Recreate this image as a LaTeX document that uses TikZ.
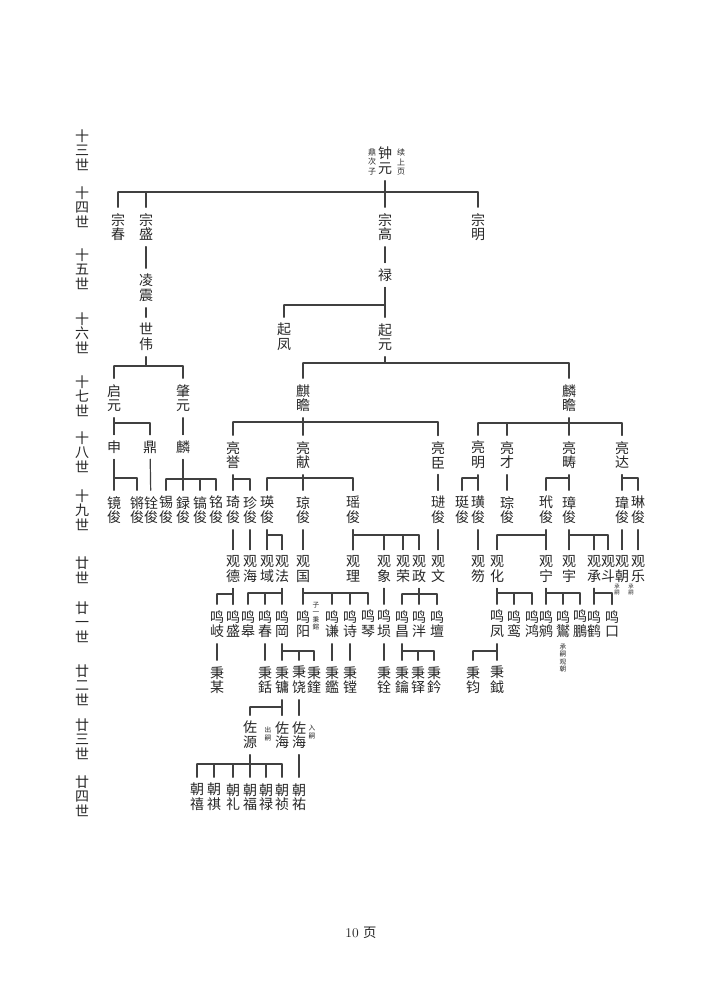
\documentclass[tikz,border=0pt]{standalone}
\usepackage{fontspec}
\newfontfamily\cjk{Noto Sans CJK SC}
\newcommand{\famfork}[5]{%
  \coordinate (bar) at (0,#2);
  \draw (#1.south) -- (#1.south |- bar);
  \draw (#3.north |- bar) -- (#4.north |- bar);
  \foreach \c in {#5} {\draw (\c.north) -- (\c.north |- bar);}}
\begin{document}
\begin{tikzpicture}[x=0.75pt,y=-0.75pt, line cap=round, line join=round, line width=0.9pt, color=black!75,
  nm/.style={font=\cjk\fontsize{10.5}{11}\selectfont, align=center, inner xsep=0pt, inner ysep=4pt, text=black!85},
  note/.style={font=\cjk\fontsize{5}{5.6}\selectfont, align=center, inner sep=0pt, text=black!85}]
\useasboundingbox (0,0) rectangle (712,1005);
% generations
\node[nm] (g13) at (82,150) {十\\三\\世};
\node[nm] (g14) at (82,207) {十\\四\\世};
\node[nm] (g15) at (82,269) {十\\五\\世};
\node[nm] (g16) at (82,333) {十\\六\\世};
\node[nm] (g17) at (82,396) {十\\七\\世};
\node[nm] (g18) at (82,452) {十\\八\\世};
\node[nm] (g19) at (82,510) {十\\九\\世};
\node[nm] (g20) at (82,570) {廿\\世};
\node[nm] (g21) at (82,622) {廿\\一\\世};
\node[nm] (g22) at (82,685) {廿\\二\\世};
\node[nm] (g23) at (82,739) {廿\\三\\世};
\node[nm] (g24) at (82,796) {廿\\四\\世};
% 13 - 17
\node[nm] (zhongyuan) at (385,161) {钟\\元};
\node[note,font=\cjk\fontsize{6}{7}\selectfont] (zyleft) at (372,162) {鼎\\次\\子};
\node[note,font=\cjk\fontsize{6}{7}\selectfont] (zyright) at (401,162) {续\\上\\页};
\node[nm] (zongchun) at (118,227) {宗\\春};
\node[nm] (zongsheng) at (146,227) {宗\\盛};
\node[nm] (zonggao) at (385,227) {宗\\高};
\node[nm] (zongming) at (478,227) {宗\\明};
\node[nm] (lingzhen) at (146,288) {凌\\震};
\node[nm] (lu) at (385,275) {禄};
\node[nm] (shiwei) at (146,337) {世\\伟};
\node[nm] (qifeng) at (284,337) {起\\凤};
\node[nm] (qiyuan) at (385,337) {起\\元};
\node[nm] (qiyuanB) at (114,398) {启\\元};
\node[nm] (zhaoyuan) at (183,398) {肇\\元};
\node[nm] (qizhan) at (303,398) {麒\\瞻};
\node[nm] (linzhan) at (569,398) {麟\\瞻};
% 18
\node[nm] (shen) at (114,447) {申};
\node[nm] (ding) at (150,447) {鼎};
\node[nm] (lin) at (183,447) {麟};
\node[nm] (liangyu) at (233,455) {亮\\誉};
\node[nm] (liangxian) at (303,455) {亮\\献};
\node[nm] (liangchen) at (438,455) {亮\\臣};
\node[nm] (liangming) at (478,455) {亮\\明};
\node[nm] (liangcai) at (507,455) {亮\\才};
\node[nm] (liangchou) at (569,455) {亮\\畴};
\node[nm] (liangda) at (622,455) {亮\\达};
% 19
\node[nm] (jingjun) at (114,510) {镜\\俊};
\node[nm] (qiangjun) at (137,510) {锵\\俊};
\node[nm] (quanjun) at (151,510) {铨\\俊};
\node[nm] (xijun) at (166,510) {锡\\俊};
\node[nm] (lujun) at (183,510) {録\\俊};
\node[nm] (haojun) at (200,510) {镐\\俊};
\node[nm] (mingjun) at (216,510) {铭\\俊};
\node[nm] (qijun) at (233,510) {琦\\俊};
\node[nm] (zhenjun) at (250,510) {珍\\俊};
\node[nm] (yingjun) at (267,510) {瑛\\俊};
\node[nm] (qiongjun) at (303,510) {琼\\俊};
\node[nm] (yaojun) at (353,510) {瑶\\俊};
\node[nm] (jinjun) at (438,510) {琎\\俊};
\node[nm] (tingjun) at (462,510) {珽\\俊};
\node[nm] (huangjun) at (478,510) {璜\\俊};
\node[nm] (congjun) at (507,510) {琮\\俊};
\node[nm] (daijun) at (546,510) {玳\\俊};
\node[nm] (zhangjun) at (569,510) {璋\\俊};
\node[nm] (weijun) at (622,510) {瑋\\俊};
\node[nm] (linjun) at (638,510) {琳\\俊};
% 20
\node[nm] (guande) at (233,569) {观\\德};
\node[nm] (guanhai) at (250,569) {观\\海};
\node[nm] (guanyu) at (267,569) {观\\域};
\node[nm] (guanfa) at (282,569) {观\\法};
\node[nm] (guanguo) at (303,569) {观\\国};
\node[nm] (guanli) at (353,569) {观\\理};
\node[nm] (guanxiang) at (384,569) {观\\象};
\node[nm] (guanrong) at (403,569) {观\\荣};
\node[nm] (guanzheng) at (419,569) {观\\政};
\node[nm] (guanwen) at (438,569) {观\\文};
\node[nm] (guanhu) at (478,569) {观\\笏};
\node[nm] (guanhua) at (497,569) {观\\化};
\node[nm] (guanning) at (546,569) {观\\宁};
\node[nm] (guanyuB) at (569,569) {观\\宇};
\node[nm] (guancheng) at (594,569) {观\\承};
\node[nm] (guandou) at (608,569) {观\\斗};
\node[nm] (guanchao) at (622,569) {观\\朝};
\node[nm] (guanle) at (638,569) {观\\乐};
\node[note,font=\cjk\fontsize{4}{4.4}\selectfont] (cs1) at (617,590) {承\\嗣};
\node[note,font=\cjk\fontsize{4}{4.4}\selectfont] (cs2) at (631,590) {承\\嗣};
% 21
\node[nm] (mingqi) at (217,624) {鸣\\岐};
\node[nm] (mingsheng) at (233,624) {鸣\\盛};
\node[nm] (minggao) at (248,624) {鸣\\皋};
\node[nm] (mingchun) at (265,624) {鸣\\春};
\node[nm] (minggang) at (282,624) {鸣\\岡};
\node[nm] (mingyang) at (303,624) {鸣\\阳};
\node[note] (myang) at (316,616) {子\\一\\秉\\鎔};
\node[nm] (mingqian) at (332,624) {鸣\\谦};
\node[nm] (mingshi) at (350,624) {鸣\\诗};
\node[nm] (mingqin) at (368,624) {鸣\\琴};
\node[nm] (mingxun) at (384,624) {鸣\\埙};
\node[nm] (mingchang) at (402,624) {鸣\\昌};
\node[nm] (mingpan) at (419,624) {鸣\\泮};
\node[nm] (mingtan) at (437,624) {鸣\\壇};
\node[nm] (mingfeng) at (497,624) {鸣\\凤};
\node[nm] (mingluan) at (514,624) {鸣\\鸾};
\node[nm] (minghong) at (532,624) {鸣\\鸿};
\node[nm] (mingyuan) at (546,624) {鸣\\鹓};
\node[nm] (mingyue) at (563,624) {鸣\\鸑};
\node[nm] (mingpeng) at (580,624) {鸣\\鵬};
\node[nm] (minghe) at (594,624) {鸣\\鹤};
\node[nm] (mingkou) at (612,624) {鸣\\口};
\node[note] (myue) at (563,658) {承\\嗣\\观\\朝};
% 22
\node[nm] (bingmou) at (217,680) {秉\\某};
\node[nm] (binggua) at (265,680) {秉\\銛};
\node[nm] (bingyong) at (282,680) {秉\\镛};
\node[nm] (bingrao) at (299,680) {秉\\饶};
\node[nm] (bingfeng) at (314,680) {秉\\鍷};
\node[nm] (bingjian) at (332,680) {秉\\鑑};
\node[nm] (bingtang) at (350,680) {秉\\镗};
\node[nm] (bingquan) at (384,680) {秉\\铨};
\node[nm] (bingyue) at (402,680) {秉\\鑰};
\node[nm] (bingduo) at (418,680) {秉\\铎};
\node[nm] (bingqian) at (434,680) {秉\\鈐};
\node[nm] (bingjun) at (473,680) {秉\\钧};
\node[nm] (bingyueB) at (497,680) {秉\\鉞};
% 23
\node[nm] (zuoyuan) at (250,735) {佐\\源};
\node[nm] (zuohai) at (282,735) {佐\\海};
\node[nm] (zuohaiB) at (299,735) {佐\\海};
\node[note,font=\cjk\fontsize{5}{6.5}\selectfont] (chusi) at (268,734) {出\\嗣};
\node[note,font=\cjk\fontsize{5}{6.5}\selectfont] (rusi) at (312,732) {入\\嗣};
% 24
\node[nm] (chaoxi) at (197,797) {朝\\禧};
\node[nm] (chaoqi) at (214,797) {朝\\祺};
\node[nm] (chaoli) at (233,797) {朝\\礼};
\node[nm] (chaofu) at (250,797) {朝\\福};
\node[nm] (chaolu) at (266,797) {朝\\禄};
\node[nm] (chaozhen) at (282,797) {朝\\祯};
\node[nm] (chaohu) at (299,797) {朝\\祐};
\node[font=\fontsize{10}{12}\selectfont, text=black!85] (page) at (361,933) {10 {\cjk 页}};
% lines
\famfork{zhongyuan}{192}{zongchun}{zongming}{zongchun,zongsheng,zonggao,zongming}
\draw (zongsheng) -- (lingzhen);
\draw (lingzhen) -- (shiwei);
\draw (zonggao) -- (lu);
\famfork{lu}{305}{qifeng}{qiyuan}{qifeng,qiyuan}
\famfork{shiwei}{366}{qiyuanB}{zhaoyuan}{qiyuanB,zhaoyuan}
\famfork{qiyuan}{363}{qizhan}{linzhan}{qizhan,linzhan}
\famfork{qiyuanB}{423}{shen}{ding}{shen,ding}
\draw (zhaoyuan) -- (lin);
\famfork{qizhan}{422}{liangyu}{liangchen}{liangyu,liangxian,liangchen}
\famfork{linzhan}{423}{liangming}{liangda}{liangming,liangcai,liangchou,liangda}
\famfork{shen}{478}{jingjun}{qiangjun}{jingjun,qiangjun}
\draw (ding) -- (quanjun);
\famfork{lin}{479}{xijun}{mingjun}{xijun,lujun,haojun,mingjun}
\famfork{liangyu}{479}{qijun}{zhenjun}{qijun,zhenjun}
\famfork{liangxian}{478}{yingjun}{yaojun}{yingjun,qiongjun,yaojun}
\draw (liangchen) -- (jinjun);
\famfork{liangming}{478}{tingjun}{huangjun}{tingjun,huangjun}
\draw (liangcai) -- (congjun);
\famfork{liangchou}{478}{daijun}{zhangjun}{daijun,zhangjun}
\famfork{liangda}{478}{weijun}{linjun}{weijun,linjun}
\draw (qijun) -- (guande);
\draw (zhenjun) -- (guanhai);
\famfork{yingjun}{535}{guanyu}{guanfa}{guanyu,guanfa}
\draw (qiongjun) -- (guanguo);
\famfork{yaojun}{535}{guanli}{guanzheng}{guanli,guanxiang,guanrong,guanzheng}
\draw (jinjun) -- (guanwen);
\draw (huangjun) -- (guanhu);
\famfork{daijun}{535}{guanhua}{guanning}{guanhua,guanning}
\famfork{zhangjun}{535}{guanyuB}{guandou}{guanyuB,guancheng,guandou}
\draw (weijun) -- (guanchao);
\draw (linjun) -- (guanle);
\famfork{guande}{594}{mingqi}{mingsheng}{mingqi,mingsheng}
\famfork{guanfa}{593}{minggao}{minggang}{minggao,mingchun,minggang}
\famfork{guanguo}{593}{mingyang}{mingqin}{mingyang,mingqian,mingshi,mingqin}
\draw (guanxiang) -- (mingxun);
\famfork{guanzheng}{594}{mingchang}{mingtan}{mingchang,mingpan,mingtan}
\famfork{guanhua}{593}{mingfeng}{minghong}{mingfeng,mingluan,minghong}
\famfork{guanning}{593}{mingyuan}{mingpeng}{mingyuan,mingyue,mingpeng}
\famfork{guancheng}{593}{minghe}{mingkou}{minghe,mingkou}
\draw (mingqi) -- (bingmou);
\draw (mingchun) -- (binggua);
\famfork{minggang}{651}{bingyong}{bingfeng}{bingyong,bingrao,bingfeng}
\draw (mingqian) -- (bingjian);
\draw (mingshi) -- (bingtang);
\draw (mingxun) -- (bingquan);
\famfork{mingchang}{651}{bingyue}{bingqian}{bingyue,bingduo,bingqian}
\famfork{mingfeng}{651}{bingjun}{bingyueB}{bingjun,bingyueB}
\famfork{bingyong}{707}{zuoyuan}{zuohai}{zuoyuan,zuohai}
\draw (bingrao) -- (zuohaiB);
\famfork{zuoyuan}{764}{chaoxi}{chaozhen}{chaoxi,chaoqi,chaoli,chaofu,chaolu,chaozhen}
\draw (zuohaiB) -- (chaohu);
\end{tikzpicture}
\end{document}
